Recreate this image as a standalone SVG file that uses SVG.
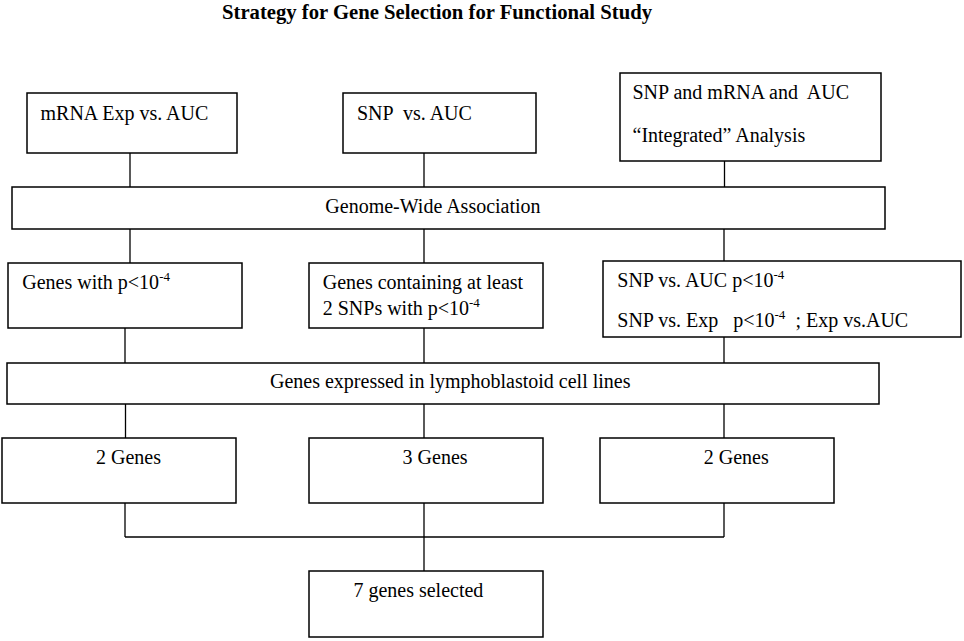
<svg xmlns="http://www.w3.org/2000/svg" width="964" height="641" viewBox="0 0 964 641">
<style>
rect{fill:#fff;stroke:#000;stroke-width:1.5}
text{font-family:"Liberation Serif","Times New Roman",serif;font-size:20px;fill:#000}
.t{font-weight:bold;font-size:20.5px}
.sup{font-size:13px}
#connectors line{stroke:#000;stroke-width:1.3}
</style>
<rect x="0" y="0" width="964" height="641" style="stroke:none"/>
<text class="t" x="222" y="18.5" textLength="430" lengthAdjust="spacingAndGlyphs">Strategy for Gene Selection for Functional Study</text>
<g id="connectors">
<line x1="130" y1="153" x2="130" y2="187"/>
<line x1="424" y1="153" x2="424" y2="187"/>
<line x1="724.5" y1="161" x2="724.5" y2="187"/>
<line x1="130" y1="229" x2="130" y2="263"/>
<line x1="424" y1="229" x2="424" y2="263"/>
<line x1="724" y1="229" x2="724" y2="261"/>
<line x1="125" y1="328" x2="125" y2="363"/>
<line x1="424" y1="328" x2="424" y2="363"/>
<line x1="724" y1="337" x2="724" y2="363"/>
<line x1="125.5" y1="404" x2="125.5" y2="438"/>
<line x1="424" y1="404" x2="424" y2="438"/>
<line x1="724" y1="404" x2="724" y2="438"/>
<line x1="125" y1="503" x2="125" y2="537"/>
<line x1="424" y1="503" x2="424" y2="571"/>
<line x1="724" y1="503" x2="724" y2="537"/>
<line x1="125" y1="537" x2="724" y2="537"/>
</g>
<g id="mrna"><rect x="27" y="93" width="210" height="60"/><text x="40.5" y="120">mRNA Exp vs. AUC</text></g>
<g id="snp"><rect x="343" y="93" width="193" height="60"/><text x="357" y="120" xml:space="preserve">SNP  vs. AUC</text></g>
<g id="integrated"><rect x="620" y="73" width="261" height="88"/><text x="632.5" y="99" xml:space="preserve">SNP and mRNA and  AUC</text><text x="632.5" y="141.5">“Integrated” Analysis</text></g>
<g id="gwa"><rect x="12" y="187" width="873" height="42"/><text x="433" y="213" text-anchor="middle">Genome-Wide Association</text></g>
<g id="genesp"><rect x="8" y="263" width="234" height="65"/><text x="22.3" y="289">Genes with p&lt;10<tspan class="sup" dy="-8">-4</tspan></text></g>
<g id="genes2snp"><rect x="309" y="263" width="234" height="65"/><text x="322.7" y="289">Genes containing at least</text><text x="322.7" y="315">2 SNPs with p&lt;10<tspan class="sup" dy="-8">-4</tspan></text></g>
<g id="snpexp"><rect x="603" y="261" width="358" height="76"/><text x="617.3" y="287">SNP vs. AUC p&lt;10<tspan class="sup" dy="-8">-4</tspan></text><text x="617.3" y="326.7" xml:space="preserve">SNP vs. Exp   p&lt;10<tspan class="sup" dy="-8">-4</tspan><tspan dy="8">  ; Exp vs.AUC</tspan></text></g>
<g id="lymph"><rect x="7" y="363" width="872" height="41"/><text x="270" y="388">Genes expressed in lymphoblastoid cell lines</text></g>
<g id="g2a"><rect x="2" y="438" width="234" height="65"/><text x="96" y="464">2 Genes</text></g>
<g id="g3"><rect x="309" y="438" width="234" height="65"/><text x="402.6" y="464">3 Genes</text></g>
<g id="g2b"><rect x="600" y="438" width="234" height="65"/><text x="703.7" y="464">2 Genes</text></g>
<g id="g7"><rect x="309" y="571" width="234" height="66"/><text x="353.4" y="596.7">7 genes selected</text></g>
</svg>
